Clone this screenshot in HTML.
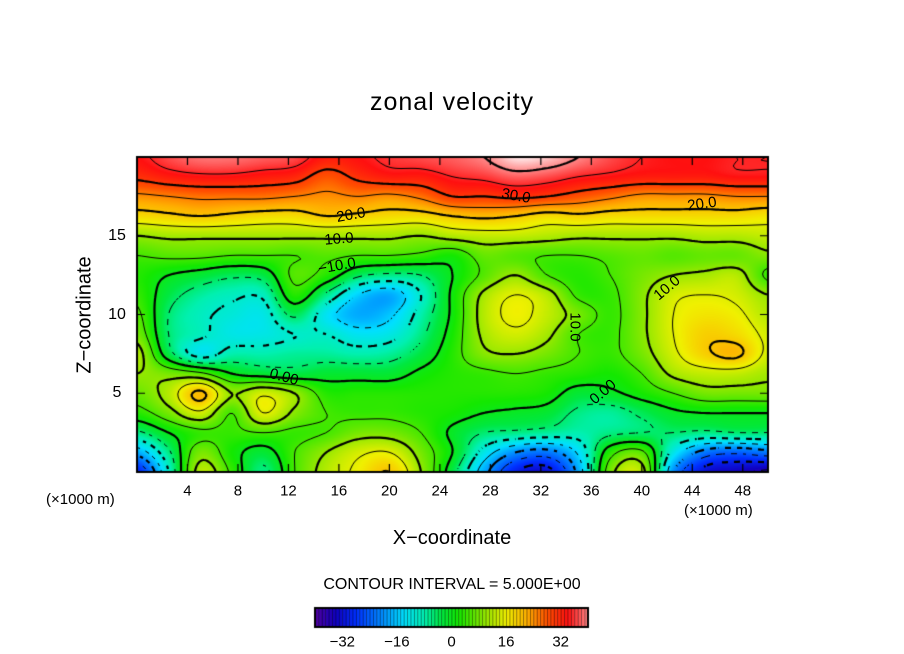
<!DOCTYPE html>
<html><head><meta charset="utf-8">
<style>
body{margin:0;background:#fff;}
#wrap{position:relative;width:904px;height:654px;overflow:hidden;font-family:"Liberation Sans",sans-serif;color:#000;}
.t{position:absolute;white-space:nowrap;}
canvas{position:absolute;}
</style></head>
<body>
<div id="wrap">
<div class="t" style="left:0;width:904px;text-align:center;top:88px;font-size:25px;letter-spacing:1px;">zonal velocity</div>
<canvas id="plot" width="904" height="654" style="left:0;top:0;"></canvas>
<div class="t" style="left:85px;top:315px;font-size:20px;transform:translate(-50%,-50%) rotate(-90deg);">Z−coordinate</div>
<div class="t" style="left:0;width:904px;text-align:center;top:527px;font-size:20px;">X−coordinate</div>
<div class="t" style="left:46px;top:491px;font-size:15px;">(×1000 m)</div>
<div class="t" style="left:684px;top:502px;font-size:15px;">(×1000 m)</div>
<div class="t" style="left:0;width:904px;text-align:center;top:576px;font-size:16px;">CONTOUR INTERVAL = 5.000E+00</div>
<div id="labels"></div>
</div>
<script>
const xCoords=[0,2.5,5,7.5,10,12.5,15,17.5,20,22.5,25,27.5,30,32.5,35,37.5,40,42.5,45,47.5,50];
const zCoords=[20,18.75,17.5,16.25,15,13.75,12.5,11.25,10,8.75,7.5,6.25,5,3.75,2.5,1.25,0];
const values=[
[34,37,39,39,38,37,33,34,36,37,38,40,44,43,40,37,35,34,34,35,35],
[31,33,34,34,33,32,28,31,33,33,35,36,38,37,35,34,33,33,33,34,34],
[24,25,26,26,26,25,24,25,24,26,30,30,31,30,28,26,24,24,24,25,25],
[18,19,20,19,18,18,20,19,18,18,20,21,20,18,19,18,18,18,18,18,17],
[10,11,11,11,11,11,11,11,11,10,12,13,13,12,11,11,11,11,12,12,13],
[5,6,6,5,5,5,6,5,5,4,2,7,6,5,5,6,7,6,7,7,9],
[3,0,-2,-4,-3,6,3,-4,-6,-5,0,6,10,5,3,5,8,10,11,12,4],
[4,-3,-7,-9,-9,3,-6,-15,-18,-10,1,11,15,12,4,4,9,14,15,14,10],
[6,-5,-9,-11,-12,-4,-13,-18,-16,-8,1,12,16,13,8,4,9,15,17,16,12],
[8,-5,-9,-12,-12,-10,-10,-13,-12,-6,2,11,14,11,5,4,9,15,19,18,14],
[12,-3,-12,-8,-8,-7,-7,-8,-7,-3,3,9,10,8,5,4,8,14,19,21,14],
[10,8,6,0,-2,-3,-2,-2,-2,1,3,4,5,4,3,2,5,11,13,13,11],
[7,12,21,10,14,10,3,3,3,3,3,3,3,2,-2,-1,2,5,8,8,8],
[3,8,14,5,15,9,5,4,4,3,2,0,-1,-2,-6,-7,-4,-1,0,0,0],
[-6,0,4,4,5,4,5,8,8,5,-1,-5,-6,-7,-8,-6,-5,-5,-6,-5,-5],
[-18,-6,8,2,-2,5,10,14,15,8,0,-12,-20,-22,-14,3,6,-12,-22,-24,-22],
[-30,-10,12,4,-6,5,12,16,20,10,-3,-18,-30,-32,-18,8,12,-20,-32,-34,-36]];
const contourLevels=[-35,-30,-25,-20,-15,-10,-5,0,5,10,15,20,25,30,35,40];
const xTicks=[4,8,12,16,20,24,28,32,36,40,44,48];
const zTicks=[5,10,15];
const cbTicks=[-32,-16,0,16,32];
const cbMin=-40, cbMax=40;

const P={l:137,r:768,t:157,b:472};
const X=v=>P.l+(v-0)/(50-0)*(P.r-P.l);
const Z=v=>P.b-(v-0)/(20-0)*(P.b-P.t);

const stops=[[-40,[80,0,160]],[-34,[16,0,192]],[-28,[0,48,255]],[-20,[0,144,255]],[-14,[0,224,255]],[-8,[0,240,176]],[-3,[0,232,64]],[2,[20,232,0]],[10,[150,232,0]],[16,[240,240,0]],[22,[255,176,0]],[28,[255,80,0]],[34,[255,16,16]],[38,[255,96,96]],[42,[255,176,176]],[45,[255,255,255]]];
function color(v){
 if(v<=stops[0][0])return stops[0][1];
 for(let i=1;i<stops.length;i++){if(v<=stops[i][0]){const a=stops[i-1],b=stops[i],t=(v-a[0])/(b[0]-a[0]);return a[1].map((c,k)=>Math.round(c+(b[1][k]-c)*t));}}
 return stops[stops.length-1][1];
}
function cr(p0,p1,p2,p3,t){return 0.5*((2*p1)+(-p0+p2)*t+(2*p0-5*p1+4*p2-p3)*t*t+(-p0+3*p1-3*p2+p3)*t*t*t);}
const nc=xCoords.length,nr=zCoords.length;
function g(i,j){i=Math.max(0,Math.min(nr-1,i));j=Math.max(0,Math.min(nc-1,j));return values[i][j];}
function field(x,z){
 const fj=(x-xCoords[0])/(xCoords[nc-1]-xCoords[0])*(nc-1);
 const fi=(zCoords[0]-z)/(zCoords[0]-zCoords[nr-1])*(nr-1);
 const j=Math.floor(fj),i=Math.floor(fi),tj=fj-j,ti=fi-i;
 const r=[];for(let a=-1;a<=2;a++)r.push(cr(g(i+a,j-1),g(i+a,j),g(i+a,j+1),g(i+a,j+2),tj));
 return cr(r[0],r[1],r[2],r[3],ti);
}
const cv=document.getElementById('plot'),ctx=cv.getContext('2d');
const W=P.r-P.l,H=P.b-P.t;
const img=ctx.createImageData(W,H);
for(let py=0;py<H;py++)for(let px=0;px<W;px++){
 const x=(px+0.5)/W*50,z=20-(py+0.5)/H*20;const c=color(field(x,z));const k=(py*W+px)*4;
 img.data[k]=c[0];img.data[k+1]=c[1];img.data[k+2]=c[2];img.data[k+3]=255;}
ctx.putImageData(img,P.l,P.t);
const S=3,gw=Math.ceil(W/S)+1,gh=Math.ceil(H/S)+1,F=[];
for(let a=0;a<gh;a++){F.push([]);for(let b=0;b<gw;b++){const px=Math.min(b*S,W),py=Math.min(a*S,H);F[a].push(field(px/W*50,20-py/H*20));}}
ctx.save();ctx.beginPath();ctx.rect(P.l,P.t,W,H);ctx.clip();
contourLevels.forEach(L=>{
 const thick=(L%10===0);ctx.strokeStyle='#000';ctx.lineWidth=thick?2.2:1;
 ctx.beginPath();
 for(let a=0;a<gh-1;a++)for(let b=0;b<gw-1;b++){
  if(L<0&&((a+b)%4>1))continue;
  const v=[F[a][b],F[a][b+1],F[a+1][b+1],F[a+1][b]];
  const p=[[b,a],[b+1,a],[b+1,a+1],[b,a+1]];const pts=[];
  for(let e=0;e<4;e++){const v1=v[e],v2=v[(e+1)%4];if((v1<L)!==(v2<L)){const t=(L-v1)/(v2-v1);const A=p[e],B=p[(e+1)%4];pts.push([P.l+(A[0]+(B[0]-A[0])*t)*S,P.t+(A[1]+(B[1]-A[1])*t)*S]);}}
  for(let k=0;k+1<pts.length;k+=2){ctx.moveTo(pts[k][0],pts[k][1]);ctx.lineTo(pts[k+1][0],pts[k+1][1]);}
 }
 ctx.stroke();
});
ctx.restore();
ctx.strokeStyle='#000';ctx.lineWidth=2;ctx.strokeRect(P.l,P.t,W,H);
ctx.lineWidth=1.2;ctx.beginPath();
xTicks.forEach(v=>{ctx.moveTo(X(v),P.b);ctx.lineTo(X(v),P.b-8);ctx.moveTo(X(v),P.t);ctx.lineTo(X(v),P.t+8);});
zTicks.forEach(v=>{ctx.moveTo(P.l,Z(v));ctx.lineTo(P.l+8,Z(v));ctx.moveTo(P.r,Z(v));ctx.lineTo(P.r-8,Z(v));});
ctx.stroke();
const cb={l:315,r:588,t:608,b:627};
const CB=v=>cb.l+(v-cbMin)/(cbMax-cbMin)*(cb.r-cb.l);
for(let v=cbMin;v<cbMax;v++){const c=color(v+0.5);ctx.fillStyle=`rgb(${c})`;ctx.fillRect(CB(v),cb.t,CB(v+1)-CB(v)+0.5,cb.b-cb.t);
 ctx.fillStyle='rgba(0,0,0,0.55)';ctx.fillRect(CB(v),cb.t,0.8,cb.b-cb.t);}
ctx.lineWidth=2;ctx.strokeRect(cb.l,cb.t,cb.r-cb.l,cb.b-cb.t);
const lab=document.getElementById('labels');
function addText(txt,x,y,size,name,rot){const d=document.createElement('div');d.className='t';d.textContent=txt;
 
 
 d.style.left=x+'px';d.style.top=y+'px';d.style.fontSize=size+'px';d.style.transform='translate(-50%,-50%)'+(rot?' rotate('+rot+'deg)':'');lab.appendChild(d);}
xTicks.forEach(v=>addText(String(v),X(v),491,15,'x-tick-label'));
zTicks.forEach(v=>addText(String(v),117,Z(v),16,'z-tick-label'));
cbTicks.forEach(v=>addText(String(v).replace('-','−'),CB(v),642,15,'colorbar-tick-label'));
[["30.0",516,196,10],["20.0",702,204,-8],["20.0",351,215,-10],["10.0",339,239,-5],["10.0",667,288,-40],["10.0",575,327,90],["0.00",603,392,-40],["0.00",284,377,15],["−10.0",337,266,-10]].forEach(a=>addText(a[0],a[1],a[2],15,'contour-label',a[3]));
</script>
</body></html>
